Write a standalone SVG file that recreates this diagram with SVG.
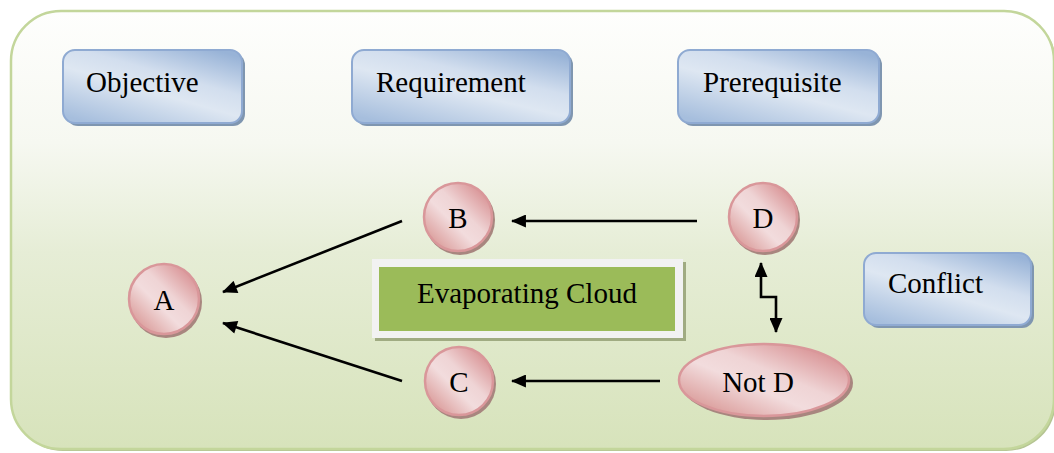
<svg xmlns="http://www.w3.org/2000/svg" width="1054" height="453" viewBox="0 0 1054 453">
<defs>
<linearGradient id="bg" x1="0" y1="0" x2="0" y2="1">
<stop offset="0" stop-color="#fefefd"/>
<stop offset="0.3" stop-color="#f6f8f1"/>
<stop offset="0.55" stop-color="#e6edd6"/>
<stop offset="1" stop-color="#d7e3bb"/>
</linearGradient>
<linearGradient id="blue" x1="0.15" y1="1" x2="0.85" y2="0">
<stop offset="0" stop-color="#a6bedd"/>
<stop offset="0.45" stop-color="#dee7f2"/>
<stop offset="0.65" stop-color="#d2deee"/>
<stop offset="1" stop-color="#98b3d7"/>
</linearGradient>
<linearGradient id="pink" x1="0.1" y1="0.9" x2="0.9" y2="0.1">
<stop offset="0" stop-color="#d99896"/>
<stop offset="0.4" stop-color="#f2dcdd"/>
<stop offset="0.6" stop-color="#efd4d5"/>
<stop offset="1" stop-color="#d78e90"/>
</linearGradient>
<marker id="ah" viewBox="0 0 16 14" markerWidth="16" markerHeight="13" refX="15" refY="7" orient="auto-start-reverse" markerUnits="userSpaceOnUse">
<path d="M0,0 L16,7 L0,14 z" fill="#000"/>
</marker>
<style>
.t{font-family:"Liberation Serif","Times New Roman",serif;font-size:29px;fill:#000}
.c{text-anchor:middle}
.bs{fill:#7f96b0}
.bb{fill:url(#blue);stroke:#8faad2;stroke-width:2}
.ps{fill:#a8867f}
.pc{fill:url(#pink);stroke:#d9979a;stroke-width:2.5}
.ln{fill:none;stroke:#000;stroke-width:2.6}
</style>
</defs>
<g id="background">
<rect x="13" y="13" width="1043" height="438" rx="50" fill="#b5c493"/>
<rect x="11" y="11" width="1043" height="438" rx="50" fill="url(#bg)" stroke="#c3d69b" stroke-width="2.5"/>
</g>
<g id="objective">
<rect class="bs" x="66" y="53" width="179" height="73" rx="12"/>
<rect class="bb" x="63" y="50" width="179" height="73" rx="12"/>
<text class="t" x="86" y="92">Objective</text>
</g>
<g id="requirement">
<rect class="bs" x="355" y="53" width="218" height="73" rx="12"/>
<rect class="bb" x="352" y="50" width="218" height="73" rx="12"/>
<text class="t" x="376" y="92">Requirement</text>
</g>
<g id="prerequisite">
<rect class="bs" x="681" y="53" width="201" height="73" rx="12"/>
<rect class="bb" x="678" y="50" width="201" height="73" rx="12"/>
<text class="t" x="703" y="92">Prerequisite</text>
</g>
<g id="conflict">
<rect class="bs" x="867" y="256" width="167" height="72" rx="12"/>
<rect class="bb" x="864" y="253" width="167" height="72" rx="12"/>
<text class="t" x="888" y="293">Conflict</text>
</g>
<g id="evaporating-cloud">
<rect x="375" y="262" width="311" height="79" fill="#a0ab82"/>
<rect x="372" y="259" width="311" height="79" fill="#f2f2f2"/>
<rect x="379" y="267" width="296" height="64" fill="#9bbb59"/>
<text class="t" x="417" y="303">Evaporating Cloud</text>
</g>
<g id="node-a">
<circle class="ps" cx="166" cy="302" r="36"/>
<circle class="pc" cx="164" cy="299" r="35"/>
<text class="t c" x="164" y="310">A</text>
</g>
<g id="node-b">
<circle class="ps" cx="460" cy="220" r="35"/>
<circle class="pc" cx="458" cy="217" r="34"/>
<text class="t c" x="458" y="228">B</text>
</g>
<g id="node-c">
<circle class="ps" cx="461" cy="384" r="35"/>
<circle class="pc" cx="459" cy="381" r="34"/>
<text class="t c" x="459" y="392">C</text>
</g>
<g id="node-d">
<circle class="ps" cx="765" cy="220" r="35"/>
<circle class="pc" cx="763" cy="217" r="34"/>
<text class="t c" x="763" y="228">D</text>
</g>
<g id="node-not-d">
<ellipse class="ps" cx="767" cy="383" rx="86" ry="37"/>
<ellipse class="pc" cx="764" cy="380" rx="85" ry="36"/>
<text class="t c" x="758" y="392">Not D</text>
</g>
<g id="connectors">
<path class="ln" d="M697,221 L512,221" marker-end="url(#ah)"/>
<path class="ln" d="M660,381 L512,381" marker-end="url(#ah)"/>
<path class="ln" d="M402,221 L223,292" marker-end="url(#ah)"/>
<path class="ln" d="M402,381 L223,323" marker-end="url(#ah)"/>
<path class="ln" d="M761,263 L761,297 L776,297 L776,332" marker-start="url(#ah)" marker-end="url(#ah)"/>
</g>
</svg>
